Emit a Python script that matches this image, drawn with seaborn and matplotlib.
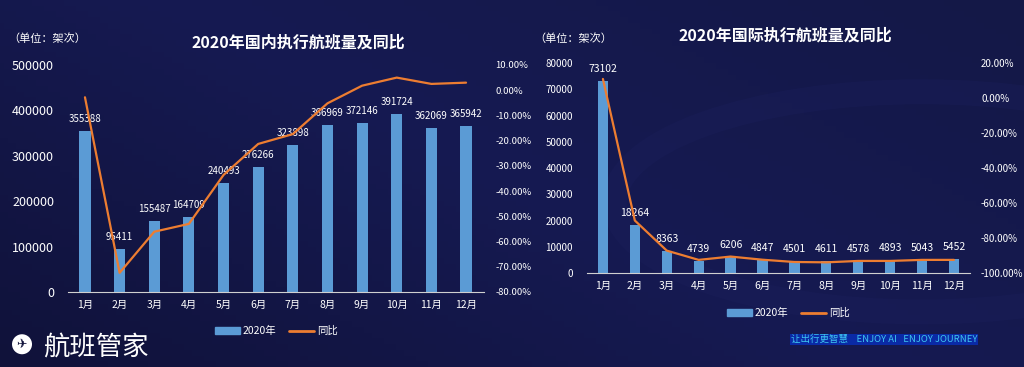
import numpy as np
import pandas as pd
import matplotlib
matplotlib.use("Agg")
import matplotlib.pyplot as plt
from matplotlib.patches import Patch, Circle, Ellipse
from matplotlib.lines import Line2D
from matplotlib.colors import LinearSegmentedColormap
import seaborn as sns

# data
months = ["1月", "2月", "3月", "4月", "5月", "6月", "7月", "8月", "9月", "10月", "11月", "12月"]
dom_flights = [355388, 95411, 155487, 164709, 240493, 276266, 323898, 366969, 372146, 391724, 362069, 365942]
dom_yoy = [-2.8, -72.4, -56.1, -53.0, -33.6, -21.3, -17.4, -5.2, 1.8, 5.0, 2.5, 3.0]
intl_flights = [73102, 18264, 8363, 4739, 6206, 4847, 4501, 4611, 4578, 4893, 5043, 5452]
intl_yoy = [10.9, -70.0, -87.2, -92.5, -90.6, -92.4, -93.7, -93.9, -93.1, -93.1, -92.5, -92.5]

bar_color = "#5b9bd5"
line_color = "#ed7d31"
txt = "white"

sns.set_style("dark")
plt.rcParams["font.family"] = ["Noto Sans CJK SC", "DejaVu Sans"]
plt.rcParams["axes.unicode_minus"] = False

fig = plt.figure(figsize=(10.24, 3.67), dpi=100)

# background gradient
bg = fig.add_axes([0, 0, 1, 1])
cmap = LinearSegmentedColormap.from_list("bg", ["#10123a", "#161a52", "#141847"])
gx = np.linspace(0, 1, 256)
gy = np.linspace(0, 1, 64)
grad = 0.6 * gx[None, :] + 0.4 * gy[:, None]
bg.imshow(grad, cmap=cmap, aspect="auto", extent=[0, 1, 0, 1], origin="lower")
# faint watermark ring on the right
bg.add_patch(Circle((0.90, 0.45), 0.30, transform=bg.transAxes, fill=False,
                    lw=18, ec="#1b1f5c", alpha=0.35))
bg.set_xlim(0, 1)
bg.set_ylim(0, 1)
bg.axis("off")


def pct(v):
    v = round(v * 100, 2)
    if v == 0:
        v = 0.0
    return f"{v:.2f}%"


def draw(rect, flights, yoy, ymax, ystep, rlim, rstep, xlim, fs_tick, fs_r, fs_lab):
    ax = fig.add_axes(rect)
    df = pd.DataFrame({"month": months, "flights": flights})
    sns.barplot(data=df, x="month", y="flights", color=bar_color, width=0.32,
                saturation=1, linewidth=0, edgecolor="none", ax=ax)
    ax.set_facecolor("none")
    ax.set_xlim(*xlim)
    ax.set_ylim(0, ymax)
    ax.set_yticks(np.arange(0, ymax + 1, ystep))
    ax.set_xlabel("")
    ax.set_ylabel("")
    ax.tick_params(axis="both", length=0, colors=txt)
    ax.tick_params(axis="y", labelsize=fs_tick, pad=10)
    ax.tick_params(axis="x", labelsize=7.5, pad=6)
    for s in ["top", "right", "left"]:
        ax.spines[s].set_visible(False)
    ax.spines["bottom"].set_color("#d0d0d0")
    ax.grid(False)
    ax.bar_label(ax.containers[0], color=txt, fontsize=fs_lab, padding=5)

    ax2 = ax.twinx()
    sns.lineplot(x=np.arange(len(months)), y=np.array(yoy) / 100.0, color=line_color,
                 lw=1.6, ax=ax2)
    ax2.set_ylim(*rlim)
    ticks = np.arange(rlim[0], rlim[1] + 1e-9, rstep)
    ax2.set_yticks(ticks)
    ax2.set_yticklabels([pct(v) for v in ticks])
    ax2.tick_params(axis="y", length=0, colors=txt, labelsize=fs_r, pad=8)
    for s in ax2.spines.values():
        s.set_visible(False)
    ax2.grid(False)
    ax2.set_facecolor("none")
    return ax


draw([0.0664, 0.2044, 0.4063, 0.6185], dom_flights, dom_yoy, 500000, 100000,
     (-0.8, 0.1), 0.1, (-0.49, 11.52), 9, 6.8, 7)
draw([0.5732, 0.2561, 0.3740, 0.5722], intl_flights, intl_yoy, 80000, 10000,
     (-1.0, 0.2), 0.2, (-0.5, 11.5), 7, 7, 7.5)

# titles and unit labels
fig.text(0.291, 0.885, "2020年国内执行航班量及同比", color=txt, fontsize=11.5,
         fontweight="bold", ha="center", va="center")
fig.text(0.767, 0.902, "2020年国际执行航班量及同比", color=txt, fontsize=11.5,
         fontweight="bold", ha="center", va="center")
fig.text(0.008, 0.895, "（单位：架次）", color=txt, fontsize=8, ha="left", va="center")
fig.text(0.522, 0.895, "（单位：架次）", color=txt, fontsize=8, ha="left", va="center")

# legends
handles = [Patch(color=bar_color, label="2020年"),
           Line2D([0], [0], color=line_color, lw=2, label="同比")]
for cx, cy in [(0.27, 0.098), (0.77, 0.147)]:
    fig.legend(handles=handles, loc="center", bbox_to_anchor=(cx, cy), ncol=2,
               frameon=False, fontsize=7.5, labelcolor=txt, handlelength=2.4,
               handleheight=0.6, handletextpad=0.3, columnspacing=1.2)

# logo bottom left
bg.add_patch(Ellipse((0.0215, 0.062), 20 / 1024, 20 / 367, transform=bg.transAxes,
                     color="white", ec="none"))
fig.text(0.0215, 0.062, "✈", color="#10123a", fontsize=9, ha="center", va="center",
         family="DejaVu Sans")
fig.text(0.042, 0.055, "航班管家", color=txt, fontsize=19, ha="left", va="center")

# slogan bottom right
fig.text(0.772, 0.075, "让出行更智慧    ENJOY AI   ENJOY JOURNEY", color="#3ec6f0",
         fontsize=6.8, ha="left", va="center",
         bbox=dict(boxstyle="square,pad=0.1", fc="#0a2aa6", ec="none"))

fig.savefig("out.png", dpi=100)
